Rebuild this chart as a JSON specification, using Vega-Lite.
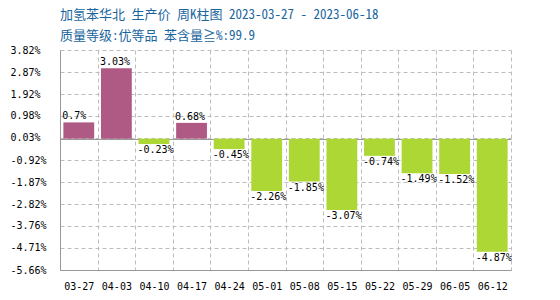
{
  "$schema": "https://vega.github.io/schema/vega-lite/v6.json",
  "width": 451,
  "height": 220,
  "autosize": {"type": "none"},
  "padding": {"left": 60, "top": 50, "right": 49, "bottom": 30},
  "background": "white",
  "title": {
    "text": "加氢苯华北 生产价 周K柱图 2023-03-27 - 2023-06-18",
    "subtitle": "质量等级:优等品 苯含量≧%:99.9",
    "anchor": "start",
    "frame": "group",
    "font": "Noto Sans Mono CJK SC, Noto Sans CJK SC, DejaVu Sans Mono",
    "fontSize": 13,
    "fontWeight": "normal",
    "color": "#1a659e",
    "subtitleFont": "Noto Sans Mono CJK SC, Noto Sans CJK SC, DejaVu Sans Mono",
    "subtitleFontSize": 13,
    "subtitleColor": "#1a659e",
    "subtitlePadding": 8,
    "offset": 2
  },
  "data": {
    "values": [
      {"week": "03-27", "value": 0.7, "label": "0.7%"},
      {"week": "04-03", "value": 3.03, "label": "3.03%"},
      {"week": "04-10", "value": -0.23, "label": "-0.23%"},
      {"week": "04-17", "value": 0.68, "label": "0.68%"},
      {"week": "04-24", "value": -0.45, "label": "-0.45%"},
      {"week": "05-01", "value": -2.26, "label": "-2.26%"},
      {"week": "05-08", "value": -1.85, "label": "-1.85%"},
      {"week": "05-15", "value": -3.07, "label": "-3.07%"},
      {"week": "05-22", "value": -0.74, "label": "-0.74%"},
      {"week": "05-29", "value": -1.49, "label": "-1.49%"},
      {"week": "06-05", "value": -1.52, "label": "-1.52%"},
      {"week": "06-12", "value": -4.87, "label": "-4.87%"}
    ]
  },
  "encoding": {
    "x": {
      "field": "week",
      "type": "ordinal",
      "sort": null,
      "scale": {"paddingInner": 0, "paddingOuter": 0},
      "axis": {
        "title": null,
        "tickSize": 0,
        "tickColor": "transparent",
        "tickBand": "extent",
        "grid": true,
        "gridColor": "#bdbdbd",
        "gridOpacity": 1,
        "gridWidth": 1,
        "gridDash": [4, 3],
        "domainColor": "#999999",
        "labelAngle": 0,
        "labelPadding": 11,
        "labelFont": "DejaVu Sans Mono",
        "labelFontSize": 10,
        "labelColor": "#000000"
      }
    },
    "y": {
      "field": "value",
      "type": "quantitative",
      "scale": {"domain": [-5.66, 3.82], "nice": false, "zero": false},
      "axis": {
        "title": null,
        "values": [3.82, 2.87, 1.92, 0.98, 0.03, 0, -0.92, -1.87, -2.82, -3.76, -4.71, -5.66],
        "labelExpr": "datum.value === 0 ? '' : datum.value + '%'",
        "labelOverlap": false,
        "tickSize": 0,
        "tickColor": "transparent",
        "grid": true,
        "gridOpacity": 1,
        "gridWidth": 1,
        "gridColor": {"condition": {"test": "datum.value === 0", "value": "#999999"}, "value": "#bdbdbd"},
        "gridDash": {"condition": {"test": "datum.value === 0", "value": []}, "value": [4, 3]},
        "domainColor": "#999999",
        "labelAlign": "left",
        "labelBaseline": "middle",
        "labelPadding": 50,
        "labelFont": "DejaVu Sans Mono",
        "labelFontSize": 10,
        "labelColor": "#000000"
      }
    }
  },
  "layer": [
    {
      "mark": {"type": "bar", "width": {"band": 0.82}},
      "encoding": {
        "color": {
          "condition": {"test": "datum.value >= 0", "value": "#ae5a84"},
          "value": "#add735"
        }
      }
    },
    {
      "transform": [{"filter": "datum.value >= 0"}],
      "mark": {"type": "text", "align": "left", "baseline": "bottom", "dy": -1, "dx": -16.5, "font": "DejaVu Sans Mono", "fontSize": 10, "color": "#000000"},
      "encoding": {
        "text": {"field": "label"}
      }
    },
    {
      "transform": [{"filter": "datum.value < 0"}],
      "mark": {"type": "text", "align": "left", "baseline": "top", "dy": 1, "dx": -16.5, "font": "DejaVu Sans Mono", "fontSize": 10, "color": "#000000"},
      "encoding": {
        "text": {"field": "label"}
      }
    }
  ],
  "config": {
    "view": {"stroke": "transparent"},
    "axis": {"grid": true, "gridColor": "#bdbdbd", "gridDash": [4, 3], "gridOpacity": 1}
  }
}
